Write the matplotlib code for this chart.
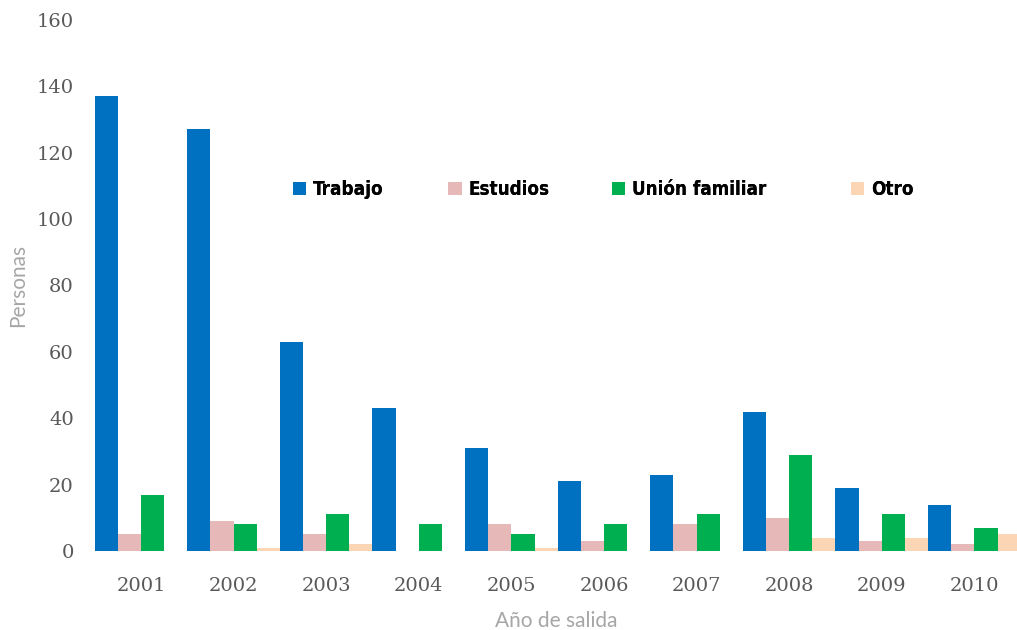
import matplotlib.pyplot as plt
import numpy as np
from matplotlib.patches import Patch

years = ["2001", "2002", "2003", "2004", "2005", "2006", "2007", "2008", "2009", "2010"]
trabajo = [137, 127, 63, 43, 31, 21, 23, 42, 19, 14]
estudios = [5, 9, 5, 0, 8, 3, 8, 10, 3, 2]
union_familiar = [17, 8, 11, 8, 5, 8, 11, 29, 11, 7]
otro = [0, 1, 2, 0, 1, 0, 0, 4, 4, 5]

SERIES = [
    ("Trabajo", trabajo, "#0070C0"),
    ("Estudios", estudios, "#E6B9B8"),
    ("Unión familiar", union_familiar, "#00B050"),
    ("Otro", otro, "#FCD5B5"),
]
# left edge of each legend entry, as figure fraction
LEGEND_X = [0.288, 0.441, 0.602, 0.837]

fig = plt.figure(figsize=(10.17, 6.30), dpi=100)
ax = fig.add_axes([0.0931, 0.1254, 0.9069, 0.8429])

x = np.arange(len(years))
width = 0.25
for j, (name, vals, color) in enumerate(SERIES):
    ax.bar(x + (j - 1.5) * width, vals, width, color=color, linewidth=0, label=name)

ax.set_xlim(-0.5, 9.46)
ax.set_ylim(0, 160)
ax.set_yticks(range(0, 161, 20))
ax.set_xticks(x)
ax.set_xticklabels(years)
for lab in ax.get_xticklabels() + ax.get_yticklabels():
    lab.set_fontfamily("DejaVu Serif")
    lab.set_fontsize(14)
    lab.set_color("#595959")
ax.tick_params(axis="both", length=0)
ax.tick_params(axis="y", pad=15)
ax.tick_params(axis="x", pad=19)
for s in ax.spines.values():
    s.set_visible(False)

ax.set_ylabel("Personas", fontsize=15, color="#a6a6a6", family="Lato", labelpad=6)
ax.set_xlabel("Año de salida", fontsize=15, color="#a6a6a6", family="Lato", labelpad=11)

# one legend per entry so the uneven spacing can be kept
for (name, _, color), lx in zip(SERIES, LEGEND_X):
    leg = fig.legend(handles=[Patch(facecolor=color, edgecolor="none", label=name)],
                     loc="center left", bbox_to_anchor=(lx, 0.699),
                     frameon=False, borderpad=0, borderaxespad=0,
                     handlelength=0.7, handleheight=0.7, handletextpad=0.35,
                     prop={"family": "DejaVu Sans", "stretch": "condensed",
                           "weight": "bold", "size": 13.5})
    fig.add_artist(leg)

fig.savefig("out.png", dpi=100)
